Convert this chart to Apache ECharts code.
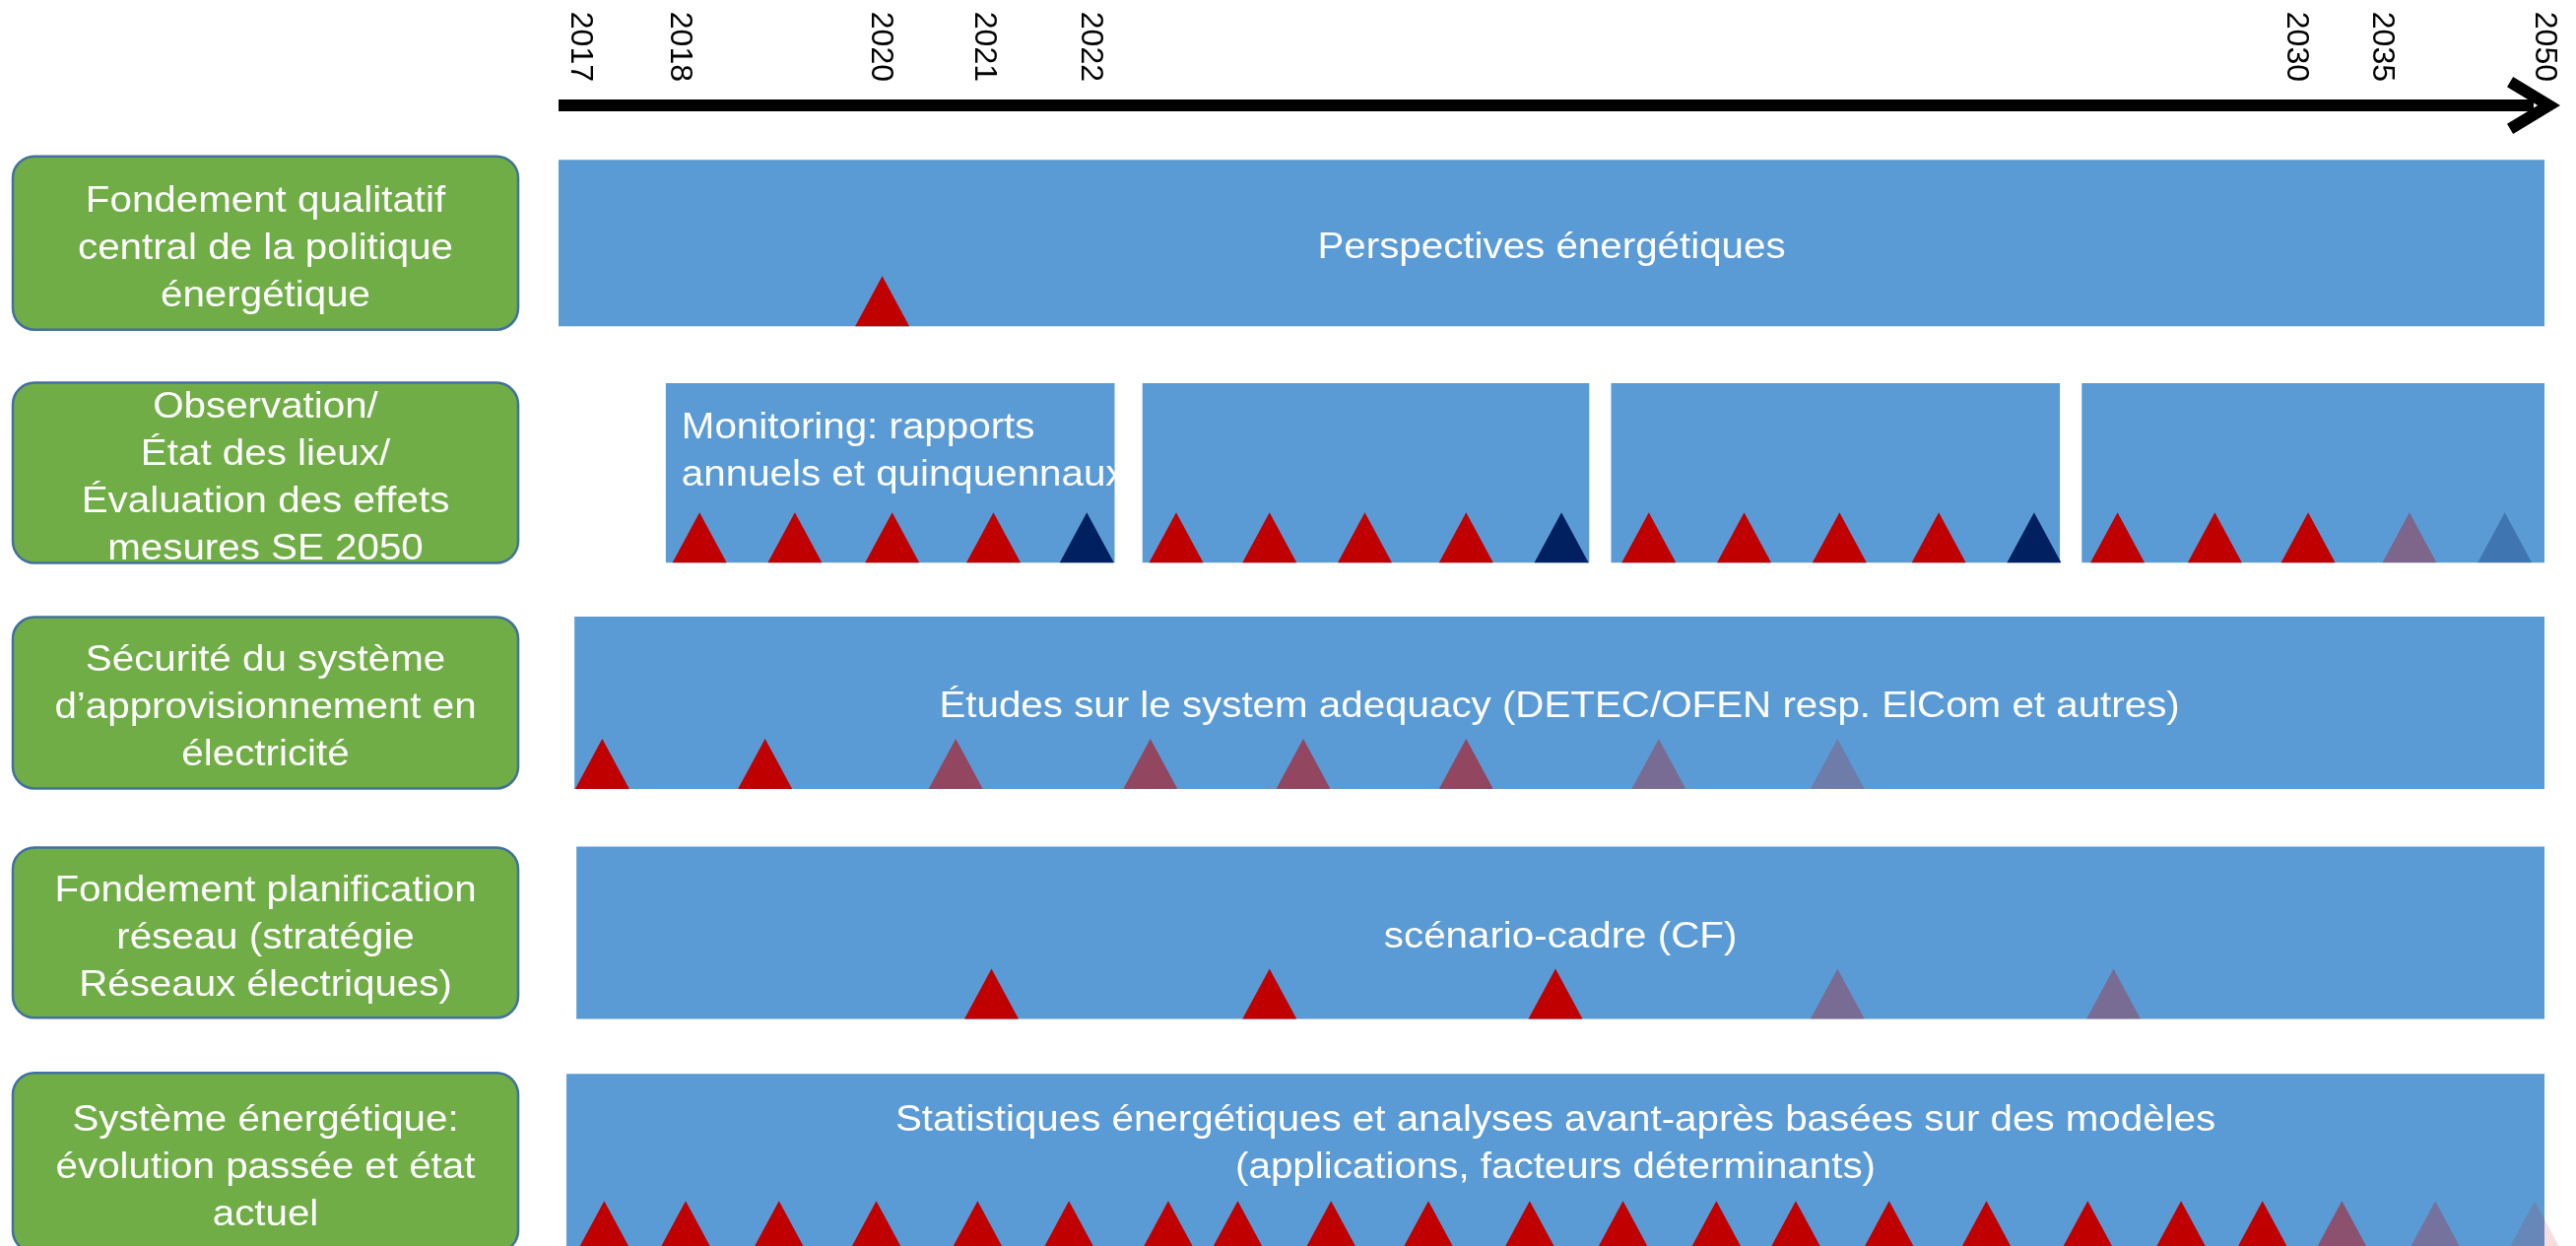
<!DOCTYPE html>
<html>
<head>
<meta charset="utf-8">
<script src="https://cdn.jsdelivr.net/npm/echarts@6/dist/echarts.min.js"></script>
<style>
html,body{margin:0;padding:0;background:#ffffff;}
#chart{width:2615px;height:1265px;}
</style>
</head>
<body>
<div id="chart"></div>
<script>
// ---------------- DATA ----------------
// Rows (left-hand green labels)
const rowLabels = [
  'Fondement qualitatif\ncentral de la politique\nénergétique',
  'Observation/\nÉtat des lieux/\nÉvaluation des effets\nmesures SE 2050',
  'Sécurité du système\nd\u2019approvisionnement en\nélectricité',
  'Fondement planification\nréseau (stratégie\nRéseaux électriques)',
  'Système énergétique:\névolution passée et état\nactuel'
];

// Timeline tick labels (schematic position on the timeline, 0..1000)
const yearLabels = ['2017', '2018', '2020', '2021', '2022', '2030', '2035', '2050'];
const yearPos    = [11, 61, 162, 214, 268, 875, 918, 1000];

// Blue activity bars
const barRow   = [0, 1, 1, 1, 1, 2, 3, 4];
const barStart = [0, 54, 294, 530, 767, 8, 9, 4];
const barEnd   = [1000, 280, 519, 756, 1000, 1000, 1000, 1000];
const barText  = [
  'Perspectives énergétiques',
  'Monitoring: rapports\nannuels et quinquennaux',
  '', '', '',
  'Études sur le system adequacy (DETEC/OFEN resp. ElCom et autres)',
  'scénario-cadre (CF)',
  'Statistiques énergétiques et analyses avant-après basées sur des modèles\n(applications, facteurs déterminants)'
];

// Milestones (triangles): position, type (red = report, navy = five-year report), opacity (planned / uncertain)
const perspectivesPos  = [163];
const perspectivesType = ['red'];
const perspectivesOpac = [1];

const monitoringPos  = [71, 119, 168, 219, 266, 311, 358, 406, 457, 505, 549, 597, 645, 695, 743, 785, 834, 881, 932, 980];
const monitoringType = ['red','red','red','red','navy','red','red','red','red','navy','red','red','red','red','navy','red','red','red','red','navy'];
const monitoringOpac = [1,1,1,1,1, 1,1,1,1,1, 1,1,1,1,1, 1,1,1,0.35,0.3];

const adequacyPos  = [22, 104, 200, 298, 375, 457, 554, 644];
const adequacyType = ['red','red','red','red','red','red','red','red'];
const adequacyOpac = [1, 1, 0.55, 0.55, 0.55, 0.55, 0.3, 0.2];

const scenarioPos  = [218, 358, 502, 644, 783];
const scenarioType = ['red','red','red','red','red'];
const scenarioOpac = [1, 1, 1, 0.3, 0.3];

const statsPos  = [23, 64, 111, 160, 211, 257, 307, 342, 389, 438, 489, 536, 583, 623, 670, 719, 770, 817, 858, 898, 945, 995];
const statsType = ['red','red','red','red','red','red','red','red','red','red','red','red','red','red','red','red','red','red','red','red','red','red'];
const statsOpac = [1,1,1,1,1,1,1,1,1,1,1,1,1,1,1,1,1,1,1,0.48,0.26,0.13];

// ---------------- STYLE ----------------
const FONT = '"Liberation Sans", Arial, sans-serif';
const BLUE = '#5B9BD5';
const GREEN = '#70AD47';
const GREEN_BORDER = '#41719C';
const MARK_COLORS = { red: '#C00000', navy: '#002060' };
const barFill = [0.724, 0.78, 0.75, 0.75, 0.771];   // bar height as share of row band
const boxFill = [0.754, 0.784, 0.745, 0.741, 0.78];  // green box height as share of row band
const textPlacement = [
  { align: 'center', v: 'middle' },
  { align: 'left', v: 'top', dx: 16, dy: 17 },
  { align: 'center', v: 'middle' },
  { align: 'center', v: 'middle' },
  { align: 'center', v: 'top', dy: 19 }
];
const TEXT_DY = 5;
const TEXT_SCALE_X = 1.12;
const TRI_W = 55, TRI_H = 51;
const CHEVRON = 'path://M29,0 L58,48 L47.7,54.2 L29,23 L10.3,54.2 L0,48 Z';

// ---------------- BUILD ----------------
const markRows = [
  [perspectivesPos, perspectivesType, perspectivesOpac],
  [monitoringPos, monitoringType, monitoringOpac],
  [adequacyPos, adequacyType, adequacyOpac],
  [scenarioPos, scenarioType, scenarioOpac],
  [statsPos, statsType, statsOpac]
];
const markData = [], markType = [], markOpac = [];
markRows.forEach(function (r, row) {
  r[0].forEach(function (p, i) {
    markData.push([p, row]);
    markType.push(r[1][i]);
    markOpac.push(r[2][i]);
  });
});
const barData = barRow.map(function (row, i) { return [barStart[i], row, barEnd[i]]; });
const boxData = rowLabels.map(function (_, i) { return [0.5, i]; });

const chart = echarts.init(document.getElementById('chart'), null, { renderer: 'canvas' });

const option = {
  backgroundColor: '#ffffff',
  animation: false,
  grid: [
    { left: 567, top: 130, width: 2016, height: 1167, outerBoundsMode: 'none', containLabel: false },
    { left: 13, top: 130, width: 513, height: 1167, outerBoundsMode: 'none', containLabel: false },
    { left: 567, top: 106, width: 2005, height: 1, outerBoundsMode: 'none', containLabel: false }
  ],
  xAxis: [
    {
      gridIndex: 0, type: 'value', min: 0, max: 1000, position: 'top', offset: 24,
      axisLine: { show: false }, axisTick: { show: false }, splitLine: { show: false },
      axisLabel: {
        customValues: yearPos,
        rotate: 90, margin: 23, fontSize: 32, color: '#000000', fontFamily: FONT,
        formatter: function (v) {
          let best = 0;
          yearPos.forEach(function (p, i) { if (Math.abs(p - v) < Math.abs(yearPos[best] - v)) best = i; });
          return yearLabels[best];
        }
      }
    },
    { gridIndex: 1, type: 'value', min: 0, max: 1, show: false },
    {
      gridIndex: 2, type: 'value', min: 0, max: 1, position: 'top',
      axisLine: {
        show: true, symbol: ['none', CHEVRON], symbolSize: [58, 54],
        lineStyle: { color: '#000000', width: 12, cap: 'butt' }
      },
      axisTick: { show: false }, axisLabel: { show: false }, splitLine: { show: false }
    }
  ],
  yAxis: [
    { gridIndex: 0, type: 'category', data: rowLabels, inverse: true, show: false },
    { gridIndex: 1, type: 'category', data: rowLabels, inverse: true, show: false },
    { gridIndex: 2, type: 'value', show: false }
  ],
  series: [
    {
      type: 'custom', name: 'bars', xAxisIndex: 0, yAxisIndex: 0,
      encode: { x: [0, 2], y: 1 },
      data: barData,
      renderItem: function (params, api) {
        const s = api.value(0), row = api.value(1), e = api.value(2);
        const p0 = api.coord([s, row]);
        const p1 = api.coord([e, row]);
        const band = api.size([0, 1])[1];
        const h = band * barFill[row];
        const top = p0[1] - h / 2;
        const children = [{
          type: 'rect', z2: 1,
          shape: { x: p0[0], y: top, width: p1[0] - p0[0], height: h },
          style: { fill: BLUE }
        }];
        const txt = barText[params.dataIndex];
        if (txt) {
          const pl = textPlacement[row];
          let tx = pl.align === 'left' ? p0[0] + (pl.dx || 0) : (p0[0] + p1[0]) / 2;
          let ty = (pl.v === 'top' ? top + (pl.dy || 0) : p0[1]) + TEXT_DY;
          children.push({
            type: 'text', z2: 50, x: tx, y: ty, scaleX: TEXT_SCALE_X,
            style: {
              text: txt, x: 0, y: 0, fill: '#ffffff',
              fontSize: 36, fontFamily: FONT, lineHeight: 48,
              align: pl.align, verticalAlign: pl.v
            }
          });
        }
        return { type: 'group', children: children };
      }
    },
    {
      type: 'custom', name: 'milestones', xAxisIndex: 0, yAxisIndex: 0,
      encode: { x: 0, y: 1 },
      data: markData,
      z: 3,
      renderItem: function (params, api) {
        const pos = api.value(0), row = api.value(1);
        const c = api.coord([pos, row]);
        const band = api.size([0, 1])[1];
        const base = c[1] + band * barFill[row] / 2;
        return {
          type: 'polygon',
          shape: { points: [[c[0] - TRI_W / 2, base], [c[0], base - TRI_H], [c[0] + TRI_W / 2, base]] },
          style: { fill: MARK_COLORS[markType[params.dataIndex]], opacity: markOpac[params.dataIndex] }
        };
      }
    },
    {
      type: 'custom', name: 'rowLabels', xAxisIndex: 1, yAxisIndex: 1,
      encode: { x: 0, y: 1 },
      data: boxData,
      renderItem: function (params, api) {
        const row = api.value(1);
        const p0 = api.coord([0, row]);
        const p1 = api.coord([1, row]);
        const band = api.size([0, 1])[1];
        const h = band * boxFill[row];
        return {
          type: 'group', children: [
            {
              type: 'rect', z2: 1,
              shape: { x: p0[0], y: p0[1] - h / 2, width: p1[0] - p0[0], height: h, r: 22 },
              style: { fill: GREEN, stroke: GREEN_BORDER, lineWidth: 2.5 }
            },
            {
              type: 'text', z2: 10, x: (p0[0] + p1[0]) / 2, y: p0[1] + 1 + TEXT_DY, scaleX: TEXT_SCALE_X,
              style: {
                text: rowLabels[row], x: 0, y: 0, fill: '#ffffff',
                fontSize: 36, fontFamily: FONT, lineHeight: 48,
                align: 'center', verticalAlign: 'middle'
              }
            }
          ]
        };
      }
    }
  ]
};
chart.setOption(option);
</script>
</body>
</html>
